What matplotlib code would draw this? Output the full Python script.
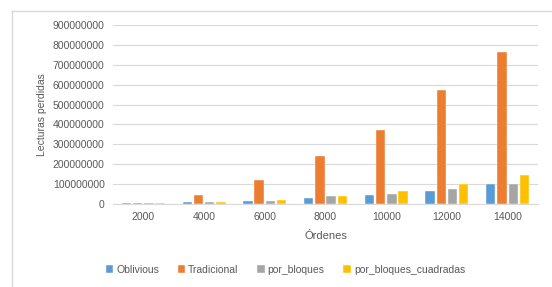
import numpy as np
import matplotlib
matplotlib.use('Agg')
import matplotlib.pyplot as plt
from matplotlib.lines import Line2D

# 데이터
ordenes = ['2000', '4000', '6000', '8000', '10000', '12000', '14000']
oblivious = [6e6, 11e6, 17e6, 31e6, 48e6, 68e6, 99e6]
tradicional = [6e6, 48e6, 121e6, 244e6, 372e6, 575e6, 766e6]
por_bloques = [6e6, 11e6, 17e6, 39e6, 53e6, 78e6, 103e6]
por_bloques_cuadradas = [6e6, 11e6, 21e6, 43e6, 65e6, 103e6, 146e6]

series = [
    ('Oblivious', oblivious, '#5B9BD5'),
    ('Tradicional', tradicional, '#ED7D31'),
    ('por_bloques', por_bloques, '#A5A5A5'),
    ('por_bloques_cuadradas', por_bloques_cuadradas, '#FFC000'),
]

plt.rcParams['font.family'] = ['Liberation Sans', 'DejaVu Sans']
text_color = '#595959'

fig = plt.figure(figsize=(5.52, 2.87), dpi=100)
ax = fig.add_axes([0.2047, 0.289, 0.7699, 0.624])

x = np.arange(len(ordenes))
pitch = 0.185
width = 0.155
for i, (name, vals, color) in enumerate(series):
    ax.bar(x + (i - 1.5) * pitch, vals, width, color=color, label=name,
           edgecolor='white', linewidth=0.3, zorder=3)

ax.set_xlim(-0.5, len(ordenes) - 0.5)
ax.set_ylim(0, 900000000)
ax.set_yticks(np.arange(0, 900000001, 100000000))
ax.set_yticklabels([str(int(v)) for v in np.arange(0, 900000001, 100000000)])
ax.set_xticks(x)
ax.set_xticklabels(ordenes)

ax.grid(axis='y', color='#D9D9D9', linewidth=0.8, zorder=0)
for s in ['top', 'right', 'left']:
    ax.spines[s].set_visible(False)
ax.spines['bottom'].set_color('#D9D9D9')
ax.spines['bottom'].set_linewidth(0.8)
ax.tick_params(length=0, labelsize=7.5, colors=text_color, pad=6)

ax.set_ylabel('Lecturas perdidas', fontsize=7.5, color=text_color, labelpad=4)
ax.set_xlabel('Órdenes', fontsize=8, color=text_color, labelpad=6)

ax.legend(loc='center', ncol=4, frameon=False, fontsize=7.5,
          handlelength=0.7, handleheight=0.7, handletextpad=0.3,
          columnspacing=1.8, labelcolor=text_color)
ax.get_legend().set_bbox_to_anchor((0.517, 0.06), transform=fig.transFigure)

# 바깥 테두리 (위, 왼쪽)
fig.add_artist(Line2D([12 / 552, 1], [1 - 11 / 287, 1 - 11 / 287], color='#D9D9D9', linewidth=1))
fig.add_artist(Line2D([12 / 552, 12 / 552], [0, 1 - 11 / 287], color='#D9D9D9', linewidth=1))

fig.savefig('out.png', dpi=100)
